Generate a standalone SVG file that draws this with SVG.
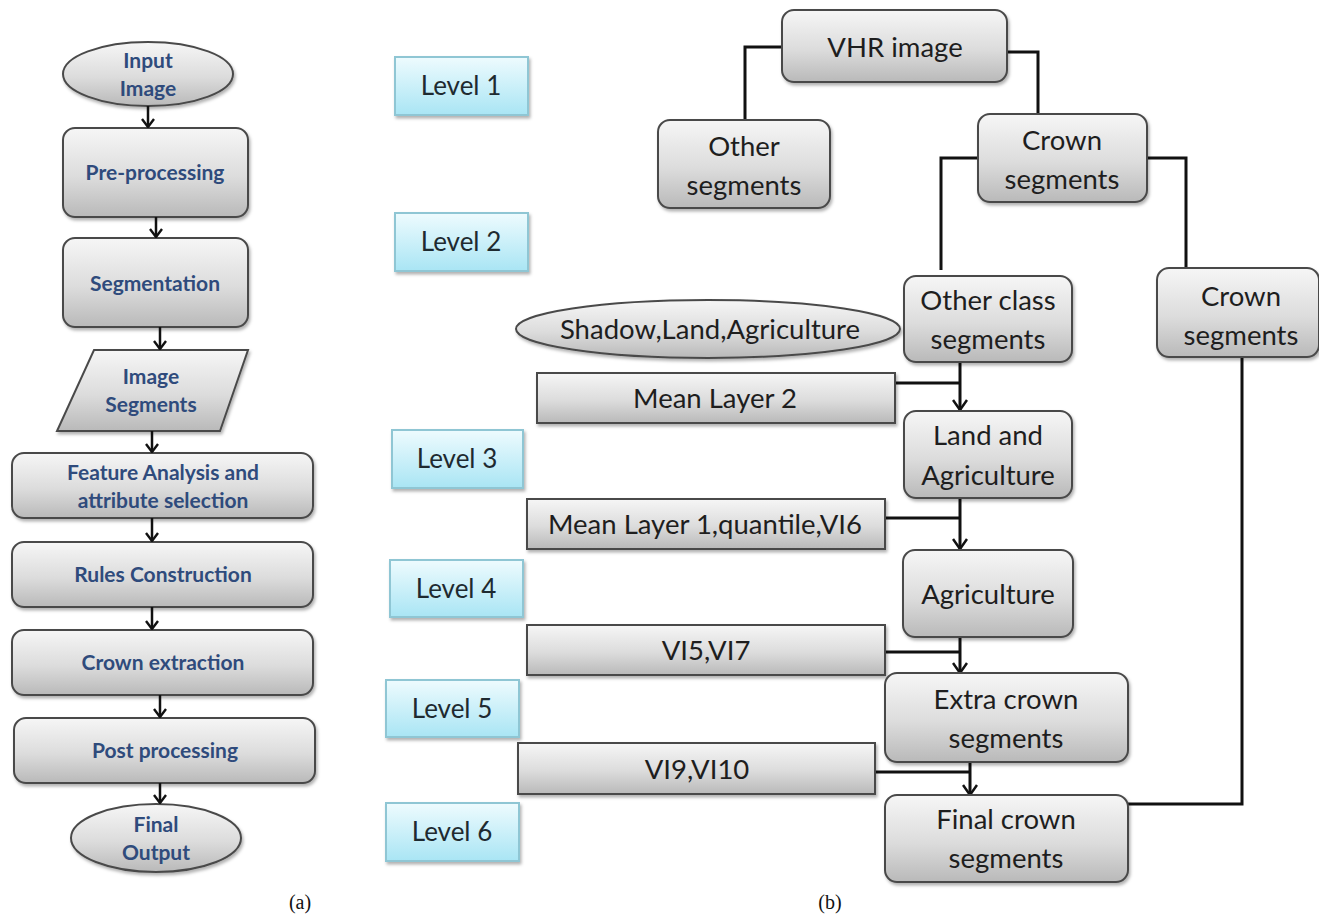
<svg xmlns="http://www.w3.org/2000/svg" width="1319" height="915" viewBox="0 0 1319 915">
<defs>
<linearGradient id="gray" x1="0" y1="0" x2="0" y2="1">
<stop offset="0" stop-color="#f6f6f6"/>
<stop offset="0.55" stop-color="#dcdcdc"/>
<stop offset="1" stop-color="#b9b9b9"/>
</linearGradient>
<linearGradient id="cyan" x1="0" y1="0" x2="0" y2="1">
<stop offset="0" stop-color="#eefbfe"/>
<stop offset="1" stop-color="#a9e5f4"/>
</linearGradient>
<filter id="sh" x="-10%" y="-10%" width="130%" height="140%">
<feDropShadow dx="1.5" dy="2.5" stdDeviation="1.5" flood-color="#000" flood-opacity="0.3"/>
</filter>
<marker id="ah" viewBox="0 0 14 14" refX="13" refY="7" markerWidth="14" markerHeight="14" markerUnits="userSpaceOnUse" orient="auto">
<path d="M5,1 L13,7 L5,13" fill="none" stroke="#111" stroke-width="2.4"/>
</marker>
<marker id="ah2" viewBox="0 0 16 16" refX="15" refY="8" markerWidth="16" markerHeight="16" markerUnits="userSpaceOnUse" orient="auto">
<path d="M5,1 L15,8 L5,15" fill="none" stroke="#111" stroke-width="2.5"/>
</marker>
</defs>
<style>
.box{fill:url(#gray);stroke:#4a4a4a;stroke-width:2;filter:url(#sh)}
.lvl{fill:url(#cyan);stroke:#8fc6d4;stroke-width:2;filter:url(#sh)}
.ta{font-family:Lato,"Liberation Sans",sans-serif;font-weight:bold;font-size:21px;fill:#2f4b7c;text-anchor:middle}
.tb{font-family:Lato,"Liberation Sans",sans-serif;font-size:27.5px;fill:#1e1e1e;text-anchor:middle}
.tl{font-family:Lato,"Liberation Sans",sans-serif;font-size:26px;fill:#1e2a30;text-anchor:middle}
.cap{font-family:"Liberation Serif",serif;font-size:20px;fill:#111;text-anchor:middle}
.c{fill:none;stroke:#111;stroke-width:2.5}
.cb{fill:none;stroke:#111;stroke-width:3}
</style>

<!-- (a) flowchart -->
<g id="a-input"><ellipse class="box" cx="148" cy="74" rx="85" ry="32"/><text class="ta" x="148" y="68">Input</text><text class="ta" x="148" y="96">Image</text></g>
<g id="a-pre"><rect class="box" x="63" y="128" width="185" height="89" rx="12"/><text class="ta" x="155" y="180">Pre-processing</text></g>
<g id="a-seg"><rect class="box" x="63" y="238" width="185" height="89" rx="12"/><text class="ta" x="155" y="291">Segmentation</text></g>
<g id="a-imgseg"><polygon class="box" points="94,350 248,350 220,431 57,431"/><text class="ta" x="151" y="384">Image</text><text class="ta" x="151" y="412">Segments</text></g>
<g id="a-feat"><rect class="box" x="12" y="453" width="301" height="65" rx="12"/><text class="ta" x="163" y="480">Feature Analysis and</text><text class="ta" x="163" y="508">attribute selection</text></g>
<g id="a-rules"><rect class="box" x="12" y="542" width="301" height="65" rx="12"/><text class="ta" x="163" y="582">Rules Construction</text></g>
<g id="a-crown"><rect class="box" x="12" y="630" width="301" height="65" rx="12"/><text class="ta" x="163" y="670">Crown extraction</text></g>
<g id="a-post"><rect class="box" x="14" y="718" width="301" height="65" rx="12"/><text class="ta" x="165" y="758">Post processing</text></g>
<g id="a-final"><ellipse class="box" cx="156" cy="838" rx="85" ry="34"/><text class="ta" x="156" y="832">Final</text><text class="ta" x="156" y="860">Output</text></g>
<text class="cap" x="300" y="909">(a)</text>

<!-- (b) levels -->
<g id="lv1"><rect class="lvl" x="395" y="57" width="133" height="58"/><text class="tl" x="461" y="95">Level 1</text></g>
<g id="lv2"><rect class="lvl" x="395" y="213" width="133" height="58"/><text class="tl" x="461" y="251">Level 2</text></g>
<g id="lv3"><rect class="lvl" x="392" y="430" width="131" height="58"/><text class="tl" x="457" y="468">Level 3</text></g>
<g id="lv4"><rect class="lvl" x="390" y="560" width="133" height="57"/><text class="tl" x="456" y="598">Level 4</text></g>
<g id="lv5"><rect class="lvl" x="386" y="680" width="133" height="57"/><text class="tl" x="452" y="718">Level 5</text></g>
<g id="lv6"><rect class="lvl" x="386" y="803" width="133" height="58"/><text class="tl" x="452" y="841">Level 6</text></g>

<!-- connectors -->
<g id="connectors">
<line class="c" x1="148" y1="106" x2="148" y2="127" marker-end="url(#ah)"/>
<line class="c" x1="156" y1="217" x2="156" y2="237" marker-end="url(#ah)"/>
<line class="c" x1="160" y1="327" x2="160" y2="349" marker-end="url(#ah)"/>
<line class="c" x1="152" y1="431" x2="152" y2="452" marker-end="url(#ah)"/>
<line class="c" x1="152" y1="518" x2="152" y2="541" marker-end="url(#ah)"/>
<line class="c" x1="152" y1="607" x2="152" y2="629" marker-end="url(#ah)"/>
<line class="c" x1="160" y1="695" x2="160" y2="717" marker-end="url(#ah)"/>
<line class="c" x1="160" y1="783" x2="160" y2="803" marker-end="url(#ah)"/>

<polyline class="cb" points="782,47 745,47 745,120"/>
<polyline class="cb" points="1007,52 1038,52 1038,114"/>
<polyline class="cb" points="978,158 941,158 941,270"/>
<polyline class="cb" points="1147,158 1186,158 1186,268"/>
<line class="cb" x1="960" y1="362" x2="960" y2="410" marker-end="url(#ah2)"/>
<line class="cb" x1="895" y1="383" x2="960" y2="383"/>
<line class="cb" x1="960" y1="498" x2="960" y2="549" marker-end="url(#ah2)"/>
<line class="cb" x1="885" y1="518" x2="960" y2="518"/>
<line class="cb" x1="960" y1="637" x2="960" y2="673" marker-end="url(#ah2)"/>
<line class="cb" x1="885" y1="652" x2="960" y2="652"/>
<line class="cb" x1="970" y1="762" x2="970" y2="795" marker-end="url(#ah2)"/>
<line class="cb" x1="875" y1="772" x2="970" y2="772"/>
<polyline class="cb" points="1128,804 1242,804 1242,357"/>
</g>

<!-- (b) nodes -->
<g id="b-vhr"><rect class="box" x="782" y="10" width="225" height="72" rx="12"/><text class="tb" x="895" y="57">VHR image</text></g>
<g id="b-other"><rect class="box" x="658" y="120" width="172" height="88" rx="12"/><text class="tb" x="744" y="156">Other</text><text class="tb" x="744" y="195">segments</text></g>
<g id="b-crown1"><rect class="box" x="978" y="114" width="169" height="88" rx="12"/><text class="tb" x="1062" y="150">Crown</text><text class="tb" x="1062" y="189">segments</text></g>
<g id="b-otherclass"><rect class="box" x="904" y="276" width="168" height="86" rx="12"/><text class="tb" x="988" y="310">Other class</text><text class="tb" x="988" y="349">segments</text></g>
<g id="b-crown2"><rect class="box" x="1157" y="268" width="162" height="89" rx="12"/><text class="tb" x="1241" y="306">Crown</text><text class="tb" x="1241" y="345">segments</text></g>
<g id="b-shadow"><ellipse class="box" cx="708" cy="329" rx="192" ry="29"/><text class="tb" x="710" y="339">Shadow,Land,Agriculture</text></g>
<g id="b-ml2"><rect class="box" x="537" y="373" width="358" height="50"/><text class="tb" x="715" y="408">Mean Layer 2</text></g>
<g id="b-landagri"><rect class="box" x="904" y="411" width="168" height="87" rx="12"/><text class="tb" x="988" y="445">Land and</text><text class="tb" x="988" y="485">Agriculture</text></g>
<g id="b-ml1"><rect class="box" x="527" y="499" width="358" height="50"/><text class="tb" x="705" y="534">Mean Layer 1,quantile,VI6</text></g>
<g id="b-agri"><rect class="box" x="903" y="550" width="170" height="87" rx="12"/><text class="tb" x="988" y="604">Agriculture</text></g>
<g id="b-vi57"><rect class="box" x="527" y="625" width="358" height="50"/><text class="tb" x="706" y="660">VI5,VI7</text></g>
<g id="b-extra"><rect class="box" x="885" y="673" width="243" height="89" rx="12"/><text class="tb" x="1006" y="709">Extra crown</text><text class="tb" x="1006" y="748">segments</text></g>
<g id="b-vi910"><rect class="box" x="518" y="743" width="357" height="51"/><text class="tb" x="697" y="779">VI9,VI10</text></g>
<g id="b-final"><rect class="box" x="885" y="795" width="243" height="87" rx="12"/><text class="tb" x="1006" y="829">Final crown</text><text class="tb" x="1006" y="868">segments</text></g>
<text class="cap" x="830" y="909">(b)</text>
</svg>
